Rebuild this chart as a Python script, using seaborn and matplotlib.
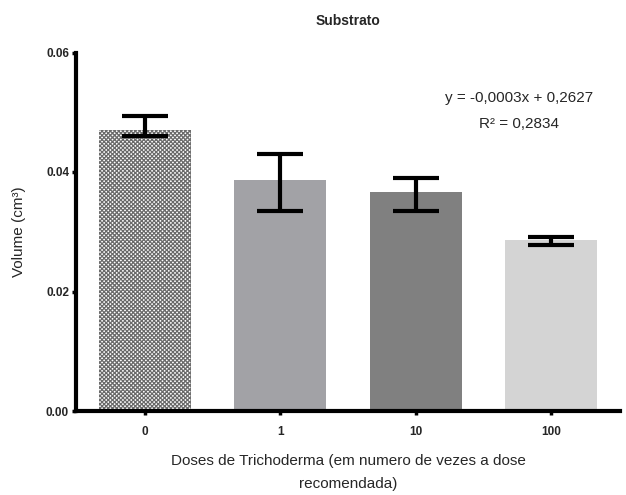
import matplotlib
matplotlib.use("Agg")
import matplotlib.pyplot as plt
import seaborn as sns
import pandas as pd
import numpy as np

doses = ["0", "1", "10", "100"]
volume = [0.0471, 0.0387, 0.0367, 0.0287]
err_upper = [0.0494, 0.0430, 0.0390, 0.0292]
err_lower = [0.0460, 0.0335, 0.0335, 0.0277]
bar_colors = ["#ffffff", "#a2a2a6", "#808080", "#d4d4d4"]
yticks = [0.00, 0.02, 0.04, 0.06]
ytick_labels = ["0.00", "0.02", "0.04", "0.06"]

sns.set_style("white")
plt.rcParams["font.family"] = ["Liberation Sans", "DejaVu Sans"]
plt.rcParams["hatch.linewidth"] = 0.9

df = pd.DataFrame({"dose": doses, "volume": volume})

fig = plt.figure(figsize=(6.26, 4.95), dpi=100)
ax = fig.add_axes([76/626, (495-411)/495, (620-76)/626, (411-52.5)/495])

sns.barplot(data=df, x="dose", y="volume", hue="dose", palette=bar_colors,
            order=doses, hue_order=doses, legend=False, errorbar=None,
            width=0.68, linewidth=0, saturation=1, ax=ax)

patches = ax.patches
patches[0].set_hatch("xxxxxxxx")
patches[0].set_edgecolor("#6a6a6a")
patches[0].set_linewidth(0)

yerr = np.array([[v - l for v, l in zip(volume, err_lower)],
                 [u - v for v, u in zip(volume, err_upper)]])
ax.errorbar(np.arange(len(doses)), volume, yerr=yerr, fmt="none",
            ecolor="black", elinewidth=3, capsize=16.5, capthick=3, zorder=5)

ax.set_xlim(-0.51, 3.51)
ax.set_ylim(0, 0.06)
ax.set_yticks(yticks)
ax.set_yticklabels(ytick_labels, fontsize=8.5, fontweight="bold")
ax.set_xticks(range(len(doses)))
ax.set_xticklabels(doses, fontsize=8.5, fontweight="bold")

for side in ["top", "right"]:
    ax.spines[side].set_visible(False)
for side in ["left", "bottom"]:
    ax.spines[side].set_linewidth(3)
    ax.spines[side].set_color("black")

ax.tick_params(axis="y", direction="out", length=3, width=2.5, color="black", pad=2, left=True)
ax.tick_params(axis="x", direction="out", length=3, width=2.5, color="black", pad=8, bottom=True)

ax.set_ylabel("Volume (cm³)", fontsize=11, labelpad=14)
ax.set_xlabel("Doses de Trichoderma (em numero de vezes a dose\nrecomendada)",
              fontsize=11, linespacing=1.85, labelpad=11)
ax.set_title("Substrato", fontsize=10, fontweight="bold", pad=20)

ax.text(0.815, 0.873, "y = -0,0003x + 0,2627", transform=ax.transAxes,
        ha="center", va="center", fontsize=11)
ax.text(0.815, 0.80, "R² = 0,2834", transform=ax.transAxes,
        ha="center", va="center", fontsize=11)

fig.savefig("out.png", dpi=100)
